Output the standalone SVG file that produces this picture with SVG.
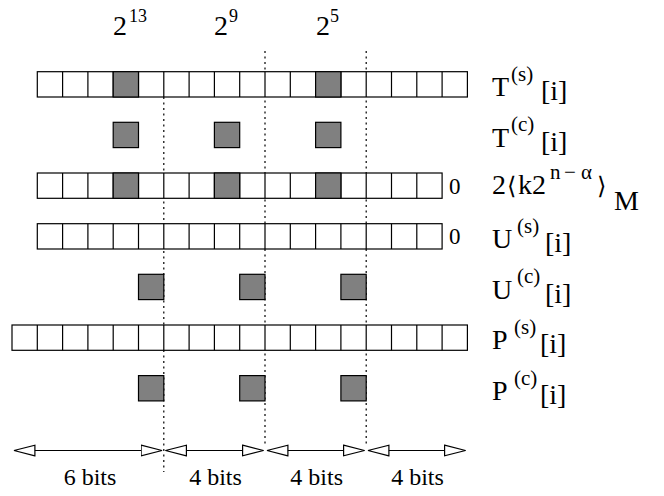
<svg xmlns="http://www.w3.org/2000/svg" width="664" height="496" viewBox="0 0 664 496">
<style>
.row{fill:#fff;stroke:#000;stroke-width:1.2}
.v{fill:none;stroke:#000;stroke-width:1.2}
.g{fill:#808080;stroke:#000;stroke-width:1.2}
.dot{fill:none;stroke:#000;stroke-width:1.2;stroke-dasharray:2 3.5}
.dim{fill:none;stroke:#000;stroke-width:1.2;marker-start:url(#ah);marker-end:url(#ah)}
</style>
<defs>
<marker id="ah" markerUnits="userSpaceOnUse" viewBox="0 0 23 13" markerWidth="23" markerHeight="13" refX="21.5" refY="6.5" orient="auto-start-reverse">
<path d="M0.6,1.2 L21.5,6.5 L0.6,11.8 Z" fill="#fff" stroke="#000" stroke-width="1.2"/>
</marker>
</defs>

<g id="guides">
<line class="dot" x1="163.8" y1="97" x2="163.8" y2="472"/>
<line class="dot" x1="265" y1="51" x2="265" y2="447"/>
<line class="dot" x1="366.2" y1="51" x2="366.2" y2="447"/>
</g>

<g id="powers">
<text x="113" y="35" font-size="28" font-family="Liberation Serif">2</text><text x="129" y="22" font-size="18" font-family="Liberation Serif">13</text>
<text x="214" y="35" font-size="28" font-family="Liberation Serif">2</text><text x="229" y="22" font-size="18" font-family="Liberation Serif">9</text>
<text x="316" y="35" font-size="28" font-family="Liberation Serif">2</text><text x="330" y="22" font-size="18" font-family="Liberation Serif">5</text>
</g>

<g id="row-Ts">
<rect class="row" x="37.3" y="71.7" width="430.1" height="25.3"/>
<path class="v" d="M62.6 71.7v25.3M87.9 71.7v25.3M113.2 71.7v25.3M138.5 71.7v25.3M163.8 71.7v25.3M189.1 71.7v25.3M214.4 71.7v25.3M239.7 71.7v25.3M265 71.7v25.3M290.3 71.7v25.3M315.6 71.7v25.3M340.9 71.7v25.3M366.2 71.7v25.3M391.5 71.7v25.3M416.8 71.7v25.3M442.1 71.7v25.3"/>
<rect class="g" x="113.2" y="71.7" width="25.3" height="25.3"/>
<rect class="g" x="315.6" y="71.7" width="25.3" height="25.3"/>
<text x="492" y="96" font-size="28" font-family="Liberation Serif">T</text><text x="511" y="80.5" font-size="21" font-family="Liberation Serif">(s)</text><text x="541" y="100" font-size="28" font-family="Liberation Serif">[i]</text>
</g>

<g id="row-Tc">
<rect class="g" x="113.2" y="122.3" width="25.3" height="25.3"/>
<rect class="g" x="214.4" y="122.3" width="25.3" height="25.3"/>
<rect class="g" x="315.6" y="122.3" width="25.3" height="25.3"/>
<text x="492" y="146.5" font-size="28" font-family="Liberation Serif">T</text><text x="511" y="131" font-size="21" font-family="Liberation Serif">(c)</text><text x="541" y="150.5" font-size="28" font-family="Liberation Serif">[i]</text>
</g>

<g id="row-k">
<rect class="row" x="37.3" y="173" width="404.8" height="25.3"/>
<path class="v" d="M62.6 173v25.3M87.9 173v25.3M113.2 173v25.3M138.5 173v25.3M163.8 173v25.3M189.1 173v25.3M214.4 173v25.3M239.7 173v25.3M265 173v25.3M290.3 173v25.3M315.6 173v25.3M340.9 173v25.3M366.2 173v25.3M391.5 173v25.3M416.8 173v25.3"/>
<rect class="g" x="113.2" y="173" width="25.3" height="25.3"/>
<rect class="g" x="214.4" y="173" width="25.3" height="25.3"/>
<rect class="g" x="315.6" y="173" width="25.3" height="25.3"/>
<text x="449" y="193.5" font-size="23" font-family="Liberation Serif">0</text>
<text x="492" y="194" font-size="28" font-family="Liberation Serif">2</text>
<text x="507" y="194" font-size="24" font-family="DejaVu Sans">⟨</text>
<text x="518" y="194" font-size="28" font-family="Liberation Serif">k2</text>
<text x="550 564 581" y="179" font-size="21" font-family="Liberation Serif">n−α</text>
<text x="597" y="194" font-size="24" font-family="DejaVu Sans">⟩</text>
<text x="614" y="210" font-size="28" font-family="Liberation Serif">M</text>
</g>

<g id="row-Us">
<rect class="row" x="37.3" y="223.7" width="404.8" height="25.3"/>
<path class="v" d="M62.6 223.7v25.3M87.9 223.7v25.3M113.2 223.7v25.3M138.5 223.7v25.3M163.8 223.7v25.3M189.1 223.7v25.3M214.4 223.7v25.3M239.7 223.7v25.3M265 223.7v25.3M290.3 223.7v25.3M315.6 223.7v25.3M340.9 223.7v25.3M366.2 223.7v25.3M391.5 223.7v25.3M416.8 223.7v25.3"/>
<text x="449" y="244" font-size="23" font-family="Liberation Serif">0</text>
<text x="492" y="248" font-size="28" font-family="Liberation Serif">U</text><text x="517" y="232.5" font-size="21" font-family="Liberation Serif">(s)</text><text x="545" y="252" font-size="28" font-family="Liberation Serif">[i]</text>
</g>

<g id="row-Uc">
<rect class="g" x="138.5" y="274.3" width="25.3" height="25.3"/>
<rect class="g" x="239.7" y="274.3" width="25.3" height="25.3"/>
<rect class="g" x="340.9" y="274.3" width="25.3" height="25.3"/>
<text x="492" y="298.5" font-size="28" font-family="Liberation Serif">U</text><text x="517" y="283" font-size="21" font-family="Liberation Serif">(c)</text><text x="545" y="302.5" font-size="28" font-family="Liberation Serif">[i]</text>
</g>

<g id="row-Ps">
<rect class="row" x="12" y="325" width="455.4" height="25.3"/>
<path class="v" d="M37.3 325v25.3M62.6 325v25.3M87.9 325v25.3M113.2 325v25.3M138.5 325v25.3M163.8 325v25.3M189.1 325v25.3M214.4 325v25.3M239.7 325v25.3M265 325v25.3M290.3 325v25.3M315.6 325v25.3M340.9 325v25.3M366.2 325v25.3M391.5 325v25.3M416.8 325v25.3M442.1 325v25.3"/>
<text x="492" y="349" font-size="28" font-family="Liberation Serif">P</text><text x="514" y="333.5" font-size="21" font-family="Liberation Serif">(s)</text><text x="540" y="353" font-size="28" font-family="Liberation Serif">[i]</text>
</g>

<g id="row-Pc">
<rect class="g" x="138.5" y="375.6" width="25.3" height="25.3"/>
<rect class="g" x="239.7" y="375.6" width="25.3" height="25.3"/>
<rect class="g" x="340.9" y="375.6" width="25.3" height="25.3"/>
<text x="492" y="400" font-size="28" font-family="Liberation Serif">P</text><text x="514" y="384.5" font-size="21" font-family="Liberation Serif">(c)</text><text x="540" y="404" font-size="28" font-family="Liberation Serif">[i]</text>
</g>

<g id="connectors">
<line class="dim" x1="14" y1="450.5" x2="162" y2="450.5"/>
<line class="dim" x1="165.5" y1="450.5" x2="263.5" y2="450.5"/>
<line class="dim" x1="267" y1="450.5" x2="364.5" y2="450.5"/>
<line class="dim" x1="368" y1="450.5" x2="465.5" y2="450.5"/>
</g>

<g id="dim-labels">
<text x="90" y="485" font-size="24" font-family="Liberation Serif" text-anchor="middle">6 bits</text>
<text x="215.5" y="485" font-size="24" font-family="Liberation Serif" text-anchor="middle">4 bits</text>
<text x="316.7" y="485" font-size="24" font-family="Liberation Serif" text-anchor="middle">4 bits</text>
<text x="417.5" y="485" font-size="24" font-family="Liberation Serif" text-anchor="middle">4 bits</text>
</g>
</svg>
